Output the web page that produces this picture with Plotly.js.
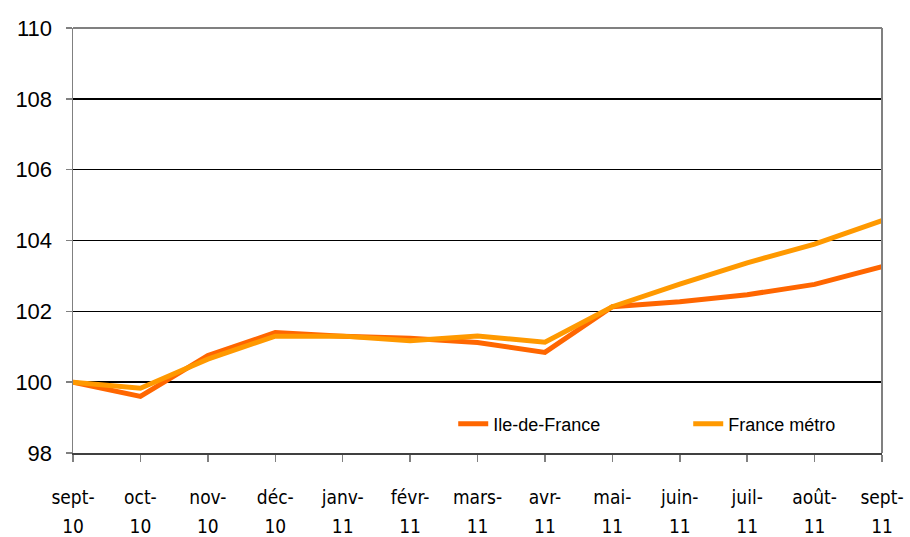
<!DOCTYPE html>
<html>
<head>
<meta charset="utf-8">
<script src="https://cdn.plot.ly/plotly-3.0.1.min.js"></script>
<style>html,body{margin:0;padding:0;background:#fff;}#chart{width:910px;height:537px;}</style>
</head>
<body>
<div id="chart"></div>
<script>
const months = ["sept-", "oct-", "nov-", "déc-", "janv-", "févr-", "mars-", "avr-", "mai-", "juin-", "juil-", "août-", "sept-"];
const years = ["10", "10", "10", "10", "11", "11", "11", "11", "11", "11", "11", "11", "11"];
const idf = [100.0, 99.6, 100.75, 101.4, 101.3, 101.24, 101.12, 100.84, 102.13, 102.27, 102.47, 102.76, 103.26];
const france = [100.0, 99.83, 100.65, 101.3, 101.3, 101.17, 101.3, 101.13, 102.13, 102.77, 103.37, 103.9, 104.56];
const seriesNames = ["Ile-de-France", "France métro"];

const idx = months.map((_, i) => i);

const traces = [
  {x: idx, y: idf, type: "scatter", mode: "lines", name: seriesNames[0],
   line: {color: "#FF6600", width: 5}, hoverinfo: "skip"},
  {x: idx, y: france, type: "scatter", mode: "lines", name: seriesNames[1],
   line: {color: "#FF9900", width: 5}, hoverinfo: "skip"},
  // carrier for the second row of tick labels (years); draws nothing
  {x: idx, y: france, xaxis: "x2", yaxis: "y", type: "scatter", mode: "lines",
   line: {width: 0}, opacity: 0, showlegend: false, hoverinfo: "skip"}
];

const tickFontX = {family: "DejaVu Sans Condensed, DejaVu Sans, sans-serif", size: 19, color: "#000"};

const layout = {
  width: 910, height: 537,
  margin: {l: 73, r: 28, t: 28, b: 84, autoexpand: false},
  paper_bgcolor: "#ffffff", plot_bgcolor: "#ffffff",
  showlegend: true,
  legend: {orientation: "h", x: 0.47, y: 0.068, xanchor: "left", yanchor: "middle",
           font: {family: "Liberation Sans, Arial, sans-serif", size: 18, color: "#000"},
           bgcolor: "rgba(0,0,0,0)", entrywidth: 190, entrywidthmode: "pixels", tracegroupgap: 0},
  xaxis: {range: [0, 12], tickmode: "array", tickvals: idx, ticktext: months,
          automargin: false,
          showgrid: false, zeroline: false,
          showline: true, linecolor: "#404040", linewidth: 2, mirror: false,
          ticks: "outside", ticklen: 7, tickcolor: "#808080", tickwidth: 1.5,
          ticklabelstandoff: 19,
          tickfont: tickFontX, fixedrange: true},
  xaxis2: {range: [0, 12], overlaying: "x", anchor: "y", side: "bottom",
           automargin: false,
           tickmode: "array", tickvals: idx, ticktext: years,
           showgrid: false, zeroline: false, showline: false, ticks: "",
           ticklabelstandoff: 60,
           tickfont: tickFontX, fixedrange: true},
  yaxis: {range: [98, 110], tickmode: "linear", tick0: 98, dtick: 2,
          automargin: false,
          showgrid: true, gridcolor: "#000000", gridwidth: 1.5, zeroline: false,
          showline: true, linecolor: "#808080", linewidth: 1.5, mirror: false,
          ticks: "outside", ticklen: 6, tickcolor: "#808080", tickwidth: 1.5,
          ticklabelstandoff: 9,
          tickfont: {family: "Liberation Sans, Arial, sans-serif", size: 22, color: "#000"},
          fixedrange: true},
  shapes: [
    {type: "line", xref: "paper", yref: "paper", x0: 0, x1: 1, y0: 1, y1: 1,
     line: {color: "#808080", width: 2}},
    {type: "line", xref: "paper", yref: "paper", x0: 1, x1: 1, y0: 0, y1: 1,
     line: {color: "#808080", width: 2}}
  ]
};

Plotly.newPlot("chart", traces, layout, {displayModeBar: false, staticPlot: true});
</script>
</body>
</html>
